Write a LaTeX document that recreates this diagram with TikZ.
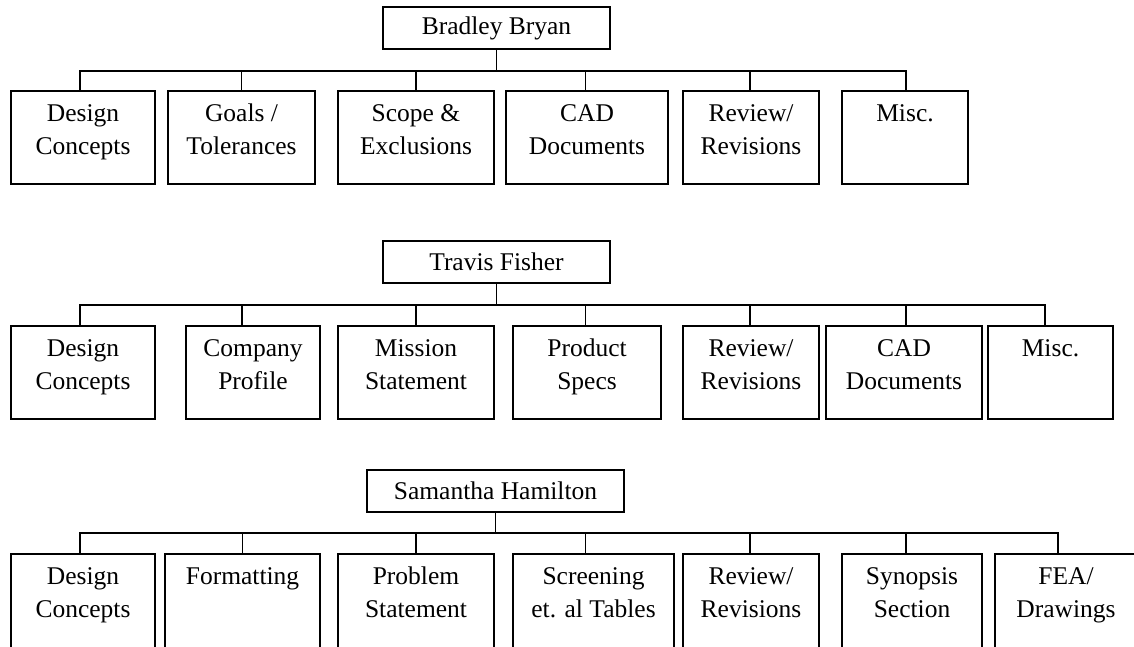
\documentclass[tikz,border=0pt]{standalone}
\usepackage{fontspec}
\setmainfont{Liberation Serif}
\tikzset{
  conn/.style={draw=black, line width=1.6pt},
  cbox/.style={draw=black, line width=1.6pt, rectangle, inner sep=0pt, outer sep=0pt, anchor=north west, minimum height=93pt},
  hbox/.style={draw=black, line width=1.6pt, rectangle, inner sep=0pt, outer sep=0pt, anchor=north west, minimum height=42pt, font=\fontsize{25.5}{33}\selectfont},
  txt/.style={inner sep=0pt, anchor=north, font=\fontsize{25.5}{33}\selectfont},
}
\newcommand{\bxtext}[1]{\parbox[t]{180pt}{\centering\strut #1}}
\begin{document}
\begin{tikzpicture}[x=1pt,y=-1pt]
\useasboundingbox (0,0) rectangle (1134,646);
\clip (0,0) rectangle (1134,646);
% ---------- Row 1 ----------
\node[hbox, minimum width=227pt] (B) at (383,7) {Bradley Bryan};
\node[cbox, minimum width=144pt] (B1) at (11,91) {};
\node[cbox, minimum width=147pt] (B2) at (168,91) {};
\node[cbox, minimum width=156pt] (B3) at (338,91) {};
\node[cbox, minimum width=162pt] (B4) at (506,91) {};
\node[cbox, minimum width=136pt] (B5) at (683,91) {};
\node[cbox, minimum width=126pt] (B6) at (842,91) {};
\node[txt] (tB1) at ([yshift=-7pt]B1.north) {\bxtext{Design\\Concepts}};
\node[txt] (tB2) at ([yshift=-7pt]B2.north) {\bxtext{Goals /\\Tolerances}};
\node[txt] (tB3) at ([yshift=-7pt]B3.north) {\bxtext{Scope \&\\Exclusions}};
\node[txt] (tB4) at ([yshift=-7pt]B4.north) {\bxtext{CAD\\Documents}};
\node[txt] (tB5) at ([yshift=-7pt]B5.north) {\bxtext{Review/\\Revisions}};
\node[txt] (tB6) at ([yshift=-7pt]B6.north) {\bxtext{Misc.}};
\draw[conn] (B.south) -- ++(0,22) -| ([xshift=-3pt]B1.north);
\draw[conn] (B.south) -- ++(0,22) -| (B2.north);
\draw[conn] (B.south) -- ++(0,22) -| (B3.north);
\draw[conn] (B.south) -- ++(0,22) -| ([xshift=-1.5pt]B4.north);
\draw[conn] (B.south) -- ++(0,22) -| ([xshift=-1pt]B5.north);
\draw[conn] (B.south) -- ++(0,22) -| ([xshift=1pt]B6.north);
% ---------- Row 2 ----------
\node[hbox, minimum width=227pt] (T) at (383,241) {Travis Fisher};
\node[cbox, minimum width=144pt] (T1) at (11,326) {};
\node[cbox, minimum width=134pt] (T2) at (186,326) {};
\node[cbox, minimum width=156pt] (T3) at (338,326) {};
\node[cbox, minimum width=148pt] (T4) at (513,326) {};
\node[cbox, minimum width=136pt] (T5) at (683,326) {};
\node[cbox, minimum width=156pt] (T6) at (826,326) {};
\node[cbox, minimum width=125pt] (T7) at (988,326) {};
\node[txt] (tT1) at ([yshift=-7pt]T1.north) {\bxtext{Design\\Concepts}};
\node[txt] (tT2) at ([yshift=-7pt]T2.north) {\bxtext{Company\\Profile}};
\node[txt] (tT3) at ([yshift=-7pt]T3.north) {\bxtext{Mission\\Statement}};
\node[txt] (tT4) at ([yshift=-7pt]T4.north) {\bxtext{Product\\Specs}};
\node[txt] (tT5) at ([yshift=-7pt]T5.north) {\bxtext{Review/\\Revisions}};
\node[txt] (tT6) at ([yshift=-7pt]T6.north) {\bxtext{CAD\\Documents}};
\node[txt] (tT7) at ([yshift=-7pt]T7.north) {\bxtext{Misc.}};
\draw[conn] (T.south) -- ++(0,22) -| ([xshift=-3pt]T1.north);
\draw[conn] (T.south) -- ++(0,22) -| ([xshift=-11pt]T2.north);
\draw[conn] (T.south) -- ++(0,22) -| (T3.north);
\draw[conn] (T.south) -- ++(0,22) -| ([xshift=-1.5pt]T4.north);
\draw[conn] (T.south) -- ++(0,22) -| ([xshift=-1pt]T5.north);
\draw[conn] (T.south) -- ++(0,22) -| ([xshift=2pt]T6.north);
\draw[conn] (T.south) -- ++(0,22) -| ([xshift=-5.5pt]T7.north);
% ---------- Row 3 ----------
\node[hbox, minimum width=257pt] (S) at (367,470) {Samantha Hamilton};
\node[cbox, minimum width=144pt, minimum height=110pt] (S1) at (11,554) {};
\node[cbox, minimum width=155pt, minimum height=110pt] (S2) at (165,554) {};
\node[cbox, minimum width=156pt, minimum height=110pt] (S3) at (338,554) {};
\node[cbox, minimum width=161pt, minimum height=110pt] (S4) at (513,554) {};
\node[cbox, minimum width=136pt, minimum height=110pt] (S5) at (683,554) {};
\node[cbox, minimum width=140pt, minimum height=110pt] (S6) at (842,554) {};
\node[cbox, minimum width=142pt, minimum height=110pt] (S7) at (995,554) {};
\node[txt] (tS1) at ([yshift=-7pt]S1.north) {\bxtext{Design\\Concepts}};
\node[txt] (tS2) at ([yshift=-7pt]S2.north) {\bxtext{Formatting}};
\node[txt] (tS3) at ([yshift=-7pt]S3.north) {\bxtext{Problem\\Statement}};
\node[txt] (tS4) at ([yshift=-7pt]S4.north) {\bxtext{Screening\\et. al Tables}};
\node[txt] (tS5) at ([yshift=-7pt]S5.north) {\bxtext{Review/\\Revisions}};
\node[txt] (tS6) at ([yshift=-7pt]S6.north) {\bxtext{Synopsis\\Section}};
\node[txt] (tS7) at ([yshift=-7pt]S7.north) {\bxtext{FEA/\\Drawings}};
\draw[conn] (S.south) -- ++(0,21) -| ([xshift=-3pt]S1.north);
\draw[conn] (S.south) -- ++(0,21) -| (S2.north);
\draw[conn] (S.south) -- ++(0,21) -| (S3.north);
\draw[conn] (S.south) -- ++(0,21) -| ([xshift=-8pt]S4.north);
\draw[conn] (S.south) -- ++(0,21) -| ([xshift=-1pt]S5.north);
\draw[conn] (S.south) -- ++(0,21) -| ([xshift=-6pt]S6.north);
\draw[conn] (S.south) -- ++(0,21) -| ([xshift=-8pt]S7.north);
\end{tikzpicture}
\end{document}
